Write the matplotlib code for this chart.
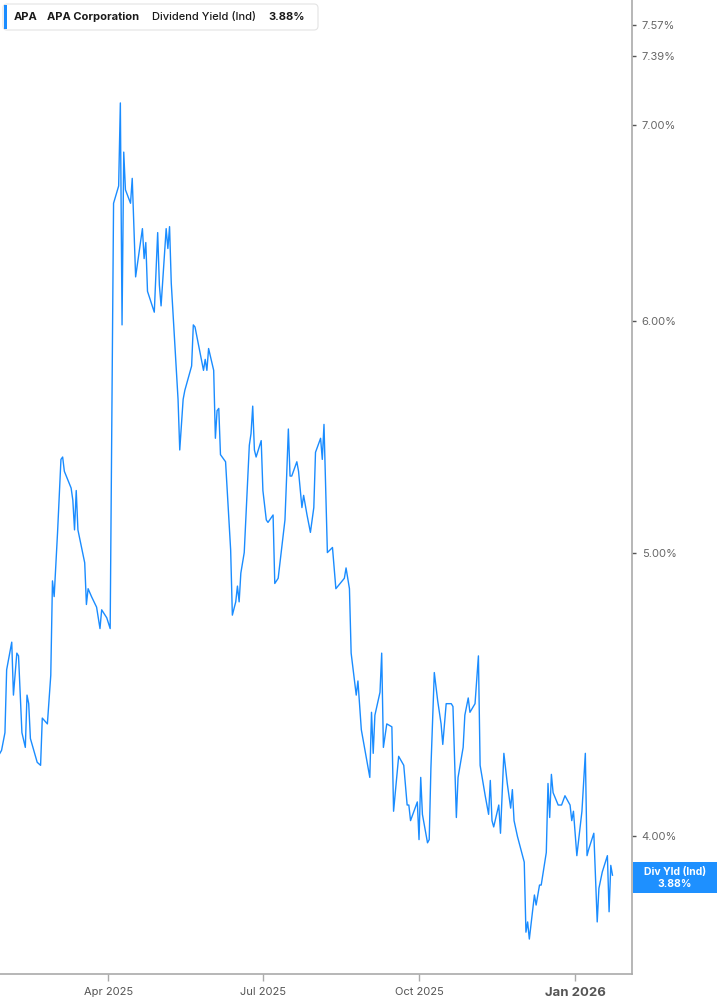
import pandas as pd
import matplotlib
matplotlib.use("Agg")
import matplotlib.pyplot as plt
from matplotlib.patches import FancyBboxPatch, Rectangle
from matplotlib.ticker import FixedLocator, FuncFormatter, NullLocator

plt.rcParams['font.family'] = ['Inter', 'DejaVu Sans']

## Data: APA dividend yield (ind), days counted from 2025-01-01
#
day_offset = [26, 27, 29, 30, 33, 34, 36, 37, 39, 41, 42, 43, 44, 48, 50, 51, 54, 56, 57, 58,
              60, 62, 63, 64, 68, 69, 70, 71, 72, 76, 77, 78, 80, 83, 85, 86, 89, 91,
              93, 96, 97, 98, 99, 100, 103, 104, 106, 110, 111, 112, 113, 117, 119, 120, 121,
              124, 125, 126, 127,
              131, 132, 134, 135, 139, 140, 141, 146, 147, 148, 149, 152, 153, 154, 155, 156,
              159, 162, 163, 165, 166, 167, 168, 170, 173, 174, 175, 176, 177, 180, 181, 183,
              184, 187, 188, 190, 194, 195, 196, 197, 198, 201, 202, 204, 205, 207, 209, 211,
              212, 215, 216, 217, 219, 222, 224, 229, 230, 232,
              233, 236, 237, 239, 244, 245, 246, 247, 250, 251, 252, 254, 257, 258, 261, 264,
              266, 267, 268, 272, 273, 274, 275, 278, 279, 280, 282, 284, 286, 287, 289, 292,
              293, 295, 296, 299, 300, 302, 303, 306, 308, 309, 312, 314, 315, 316, 317, 320,
              321, 323, 325, 327, 328, 329, 331, 334, 335, 336, 337, 338, 341, 342, 344, 345,
              348, 349, 350, 351, 352, 355, 357, 359, 362, 363, 364, 366, 369, 371, 372, 373,
              376, 378, 379, 381, 384, 385, 386, 387]
yield_pct = [4.27, 4.28, 4.34, 4.56, 4.66, 4.47, 4.62, 4.61, 4.34, 4.29, 4.47, 4.44, 4.32, 4.24, 4.23, 4.39, 4.37, 4.54, 4.89, 4.83,
             5.08, 5.38, 5.39, 5.33, 5.26, 5.21, 5.09, 5.25, 5.09, 4.96, 4.80, 4.86, 4.83, 4.79, 4.71, 4.78, 4.75, 4.71,
             6.58, 6.67, 7.12, 5.98, 6.85, 6.65, 6.58, 6.71, 6.21, 6.45, 6.30, 6.38, 6.14, 6.04, 6.43, 6.17, 6.07,
             6.45, 6.35, 6.46, 6.18,
             5.64, 5.42, 5.64, 5.68, 5.79, 5.98, 5.97, 5.77, 5.82, 5.77, 5.87, 5.77, 5.47, 5.59, 5.60, 5.40,
             5.37, 5.01, 4.76, 4.81, 4.87, 4.81, 4.92, 5.00, 5.44, 5.49, 5.61, 5.42, 5.39, 5.46, 5.25, 5.13,
             5.12, 5.15, 4.88, 4.90, 5.13, 5.31, 5.51, 5.31, 5.31, 5.37, 5.33, 5.18, 5.23, 5.15, 5.08, 5.18,
             5.41, 5.47, 5.38, 5.53, 5.00, 5.02, 4.86, 4.90, 4.94, 4.86,
             4.62, 4.47, 4.52, 4.35, 4.19, 4.41, 4.27, 4.40, 4.48, 4.62, 4.29, 4.37, 4.36, 4.08, 4.26, 4.23,
             4.10, 4.10, 4.05, 4.11, 3.99, 4.19, 4.07, 3.98, 3.99, 4.22, 4.55, 4.45, 4.37, 4.30, 4.44, 4.44,
             4.43, 4.06, 4.19, 4.29, 4.40, 4.46, 4.41, 4.44, 4.61, 4.23, 4.13, 4.07, 4.18, 4.05, 4.03, 4.10,
             4.01, 4.27, 4.17, 4.09, 4.15, 4.05, 4.00, 3.94, 3.92, 3.71, 3.74, 3.69, 3.82, 3.79, 3.85, 3.85,
             3.95, 4.17, 4.06, 4.20, 4.14, 4.10, 4.10, 4.13, 4.10, 4.05, 4.08, 3.94, 4.08, 4.27, 3.94, 3.96,
             4.01, 3.74, 3.84, 3.89, 3.94, 3.77, 3.91, 3.88]
assert len(day_offset) == len(yield_pct)

ytick_vals = [4.00, 5.00, 6.00, 7.00, 7.39, 7.57]
xtick_dates = ["2025-04-01", "2025-07-01", "2025-10-01", "2026-01-01"]
xtick_labels = ["Apr 2025", "Jul 2025", "Oct 2025", "Jan 2026"]
ticker_name = ["APA", "APA Corporation", "Dividend Yield (Ind)", "%.2f%%" % yield_pct[-1]]

dates = pd.Timestamp("2025-01-01") + pd.to_timedelta(day_offset, unit="D")
line_blue = '#1a8cff'

fig = plt.figure(figsize=(7.17, 10.05), dpi=100)
ax = fig.add_axes([0, 31 / 1005, 632 / 717, 974 / 1005])
ax.plot(dates, yield_pct, color=line_blue, lw=1.0)

ax.set_yscale('log')
ax.set_ylim(3.59, 7.72)
ax.set_xlim(pd.Timestamp("2025-01-27 02:00"), pd.Timestamp("2026-02-03 12:00"))

ax.yaxis.tick_right()
ax.yaxis.set_major_locator(FixedLocator(ytick_vals))
ax.yaxis.set_minor_locator(NullLocator())
ax.yaxis.set_major_formatter(FuncFormatter(lambda v, p: "%.2f%%" % v))
ax.tick_params(axis='y', length=3, width=1.0, color='#555555', pad=4,
               labelsize=8, labelcolor='#666666')

ax.set_xticks(pd.to_datetime(xtick_dates))
ax.set_xticklabels(xtick_labels)
ax.xaxis.set_minor_locator(NullLocator())
ax.tick_params(axis='x', length=5, width=1.0, color='#aaaaaa', pad=4,
               labelsize=8, labelcolor='#555555')
jan = ax.get_xticklabels()[-1]
jan.set_fontweight('bold')
jan.set_fontsize(9.5)

for s in ['left', 'top']:
    ax.spines[s].set_visible(False)
for s in ['right', 'bottom']:
    ax.spines[s].set_color('#aaaaaa')
    ax.spines[s].set_linewidth(1.2)

## Header box
#
tr = fig.dpi_scale_trans
fig.patches.append(FancyBboxPatch((0.05, 9.77), 3.11, 0.22,
                                  boxstyle="round,pad=0.02,rounding_size=0.04",
                                  transform=tr, facecolor='white', edgecolor='#e4e4e4', lw=0.8))
fig.patches.append(Rectangle((0.04, 9.76), 0.03, 0.24, transform=tr,
                             facecolor=line_blue, edgecolor='none'))
hdr_x = [0.14, 0.47, 1.52, 2.68]
hdr_w = ['bold', 'bold', 'medium', 'bold']
for txt, hx, w in zip(ticker_name, hdr_x, hdr_w):
    fig.text(hx, 9.88, txt, transform=tr, fontsize=8, fontweight=w,
             color='#1a1a1a', va='center', ha='left')

## Last value tag
#
fig.patches.append(Rectangle((6.33, 1.12), 0.84, 0.31, transform=tr,
                             facecolor='#1e90ff', edgecolor='none'))
fig.text(6.75, 1.33, "Div Yld (Ind)", transform=tr, fontsize=7.5, fontweight='bold',
         color='white', ha='center', va='center')
fig.text(6.75, 1.21, "%.2f%%" % yield_pct[-1], transform=tr, fontsize=7.5, fontweight='bold',
         color='white', ha='center', va='center')

fig.savefig('out.png', dpi=100)
